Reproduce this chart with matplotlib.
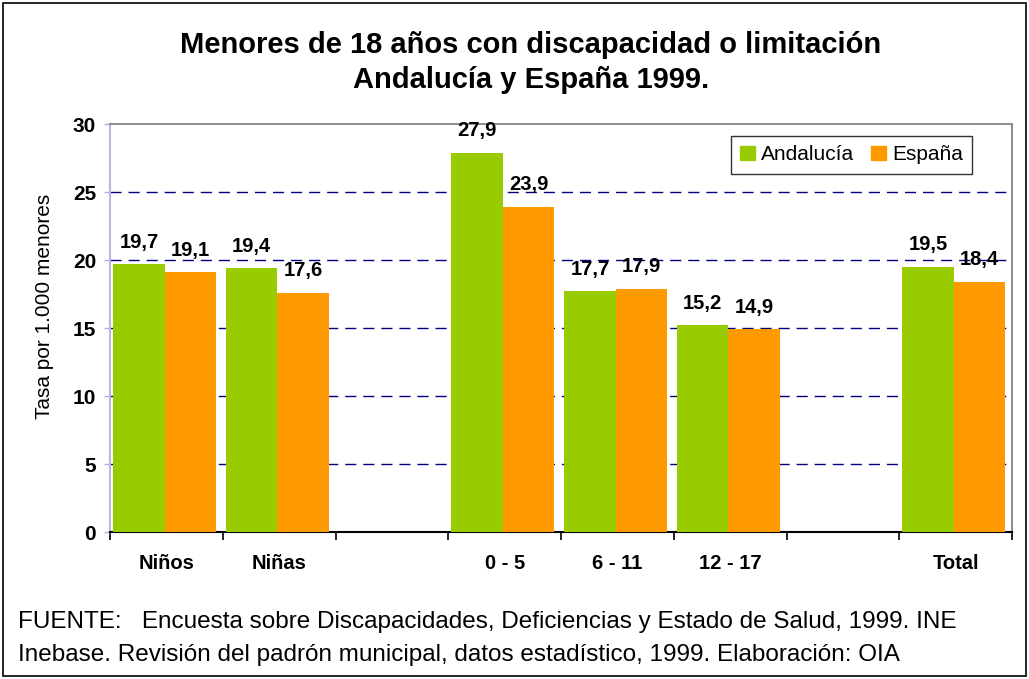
import matplotlib
matplotlib.use("Agg")
import matplotlib.pyplot as plt
from matplotlib.patches import Rectangle, Patch
import numpy as np

plt.rcParams['font.family'] = ['Liberation Sans', 'DejaVu Sans']

categories = ["Niños", "Niñas", "", "0 - 5", "6 - 11", "12 - 17", "", "Total"]
andalucia = [19.7, 19.4, None, 27.9, 17.7, 15.2, None, 19.5]
espana = [19.1, 17.6, None, 23.9, 17.9, 14.9, None, 18.4]
series_names = ["Andalucía", "España"]
yticks = [0, 5, 10, 15, 20, 25, 30]

green = "#99CC00"
orange = "#FF9900"

fig = plt.figure(figsize=(10.29, 6.79), dpi=100)
ax = fig.add_axes([110/1029, (679-532)/679, 902/1029, (532-124)/679])

w = 0.457
off = -0.015
x = np.arange(len(categories))
for i, (a, e) in enumerate(zip(andalucia, espana)):
    if a is None:
        continue
    ax.bar(i + off - w/2, a, width=w, color=green, zorder=3)
    ax.bar(i + off + w/2, e, width=w, color=orange, zorder=3)
    ax.annotate(f"{a:.1f}".replace(".", ","), (i + off - w/2, a), xytext=(0, 9),
                textcoords="offset points", ha="center", va="bottom",
                fontsize=14.5, fontweight="bold")
    ax.annotate(f"{e:.1f}".replace(".", ","), (i + off + w/2, e), xytext=(0, 9),
                textcoords="offset points", ha="center", va="bottom",
                fontsize=14.5, fontweight="bold")

ax.set_xlim(-0.5, len(categories) - 0.5)
ax.set_ylim(0, 30)
ax.set_yticks(yticks)
ax.set_yticklabels([str(t) for t in yticks], fontsize=15, fontweight="bold")
for t in yticks[1:-1]:
    ax.axhline(t, color="#000080", lw=1, ls=(0, (8, 5)), zorder=1)

ax.set_xticks(x)
ax.set_xticklabels(categories, fontsize=14.5, fontweight="bold")
ax.tick_params(axis="x", length=0, pad=16)
ax.set_xticks(np.arange(-0.5, len(categories)), minor=True)
ax.tick_params(axis="x", which="minor", length=6, width=1.2, color="black", direction="out")
ax.tick_params(axis="y", length=4, color="#b0b0e0", width=1, pad=6)

ax.spines["left"].set_color("#b8b8e0")
ax.spines["left"].set_linewidth(1.5)
ax.spines["bottom"].set_color("black")
ax.spines["bottom"].set_linewidth(1.5)
ax.spines["top"].set_color("#909090")
ax.spines["top"].set_linewidth(1.5)
ax.spines["right"].set_color("#909090")
ax.spines["right"].set_linewidth(1.5)

fig.text(45/1029, 1 - 306/679, "Tasa por 1.000 menores", rotation=90,
         ha="center", va="center", fontsize=15)

handles = [Patch(color=green, label=series_names[0]), Patch(color=orange, label=series_names[1])]
leg = ax.legend(handles=handles, loc="upper right", bbox_to_anchor=(972/1029, (679-136)/679),
                bbox_transform=fig.transFigure, ncol=2, fontsize=15, frameon=True,
                fancybox=False, edgecolor="black", handlelength=0.7, handleheight=0.7,
                handletextpad=0.3, columnspacing=0.8, borderpad=0.45, borderaxespad=0)
leg.get_frame().set_linewidth(1.0)

fig.text(531/1029, 1 - 45/679, "Menores de 18 años con discapacidad o limitación",
         ha="center", va="center", fontsize=21, fontweight="bold")
fig.text(531/1029, 1 - 80/679, "Andalucía y España 1999.",
         ha="center", va="center", fontsize=21, fontweight="bold")

fig.text(18/1029, 1 - 622/679,
         "FUENTE:   Encuesta sobre Discapacidades, Deficiencias y Estado de Salud, 1999. INE",
         ha="left", va="center", fontsize=17.5)
fig.text(18/1029, 1 - 655/679,
         "Inebase. Revisión del padrón municipal, datos estadístico, 1999. Elaboración: OIA",
         ha="left", va="center", fontsize=17.5)

fig.patches.append(Rectangle((0.003, 0.004), 0.994, 0.992, transform=fig.transFigure,
                             fill=False, edgecolor="black", lw=1.2))

fig.savefig("out.png", dpi=100)
